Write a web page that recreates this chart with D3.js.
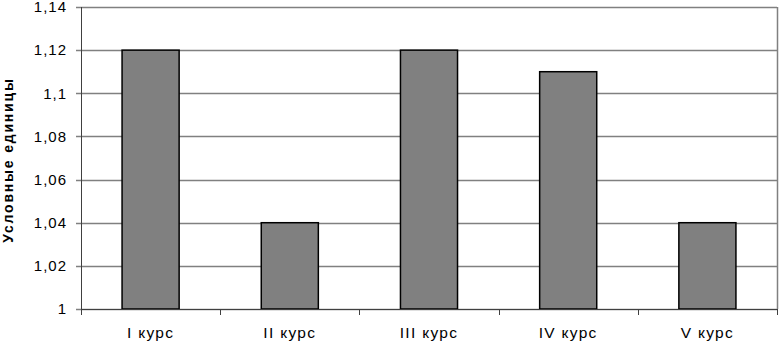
<!DOCTYPE html>
<meta charset="utf-8">
<style>
body { margin: 0; background: #fff; }
text { font-family: Arial, "Liberation Sans", sans-serif; }
</style>
<svg width="779" height="342"></svg>
<script src="https://d3js.org/d3.v7.min.js"></script>
<script>

var categories = ["I курс", "II курс", "III курс", "IV курс", "V курс"];
var values = [1.12, 1.04, 1.12, 1.11, 1.04];
var yTicks = [1, 1.02, 1.04, 1.06, 1.08, 1.1, 1.12, 1.14];
var yTitle = "Условные единицы";

// plot area edges ("top" is taken by window.top, so no bare names)
var plotLeft = 81, plotRight = 777, plotTop = 7, plotBottom = 309;

var svg = d3.select("svg");

var x = d3.scaleBand()
    .domain(categories)
    .range([plotLeft, plotRight])
    .paddingInner(0.59)
    .paddingOuter(0.295);

var y = d3.scaleLinear()
    .domain([1, 1.14])
    .range([plotBottom, plotTop]);

var fmt = function(d) { return d3.format("~g")(d).replace(".", ","); };

// gridlines
svg.append("g")
  .selectAll("line")
  .data(yTicks)
  .join("line")
    .attr("x1", plotLeft - 5)
    .attr("x2", plotRight)
    .attr("y1", function(d) { return Math.round(y(d)) + 0.5; })
    .attr("y2", function(d) { return Math.round(y(d)) + 0.5; })
    .attr("stroke", "#808080")
    .attr("stroke-width", 1.5);

// right border
svg.append("line")
    .attr("x1", plotRight + 0.5).attr("x2", plotRight + 0.5)
    .attr("y1", plotTop).attr("y2", plotBottom)
    .attr("stroke", "#808080")
    .attr("stroke-width", 1.5);

// bars
svg.append("g")
  .selectAll("rect")
  .data(values)
  .join("rect")
    .attr("x", function(d, i) { return x(categories[i]); })
    .attr("y", function(d) { return y(d); })
    .attr("width", x.bandwidth())
    .attr("height", function(d) { return y(1) - y(d); })
    .attr("fill", "#808080")
    .attr("stroke", "#000")
    .attr("stroke-width", 1.5);

// y axis
svg.append("line")
    .attr("x1", plotLeft + 0.5).attr("x2", plotLeft + 0.5)
    .attr("y1", plotTop).attr("y2", plotBottom + 6)
    .attr("stroke", "#404040");

svg.append("g")
  .selectAll("text")
  .data(yTicks)
  .join("text")
    .attr("x", 67)
    .attr("y", function(d) { return y(d); })
    .attr("dy", "0.35em")
    .attr("text-anchor", "end")
    .attr("font-size", 15)
    .attr("letter-spacing", 1)
    .attr("fill", "#000")
    .text(fmt);

// x axis
svg.append("line")
    .attr("x1", plotLeft).attr("x2", plotRight)
    .attr("y1", plotBottom + 0.5).attr("y2", plotBottom + 0.5)
    .attr("stroke", "#404040");

var bounds = categories.map(function(c) { return x(c) - x.step() * x.paddingInner() / 2; }).slice(1);
bounds.push(plotRight);
svg.append("g")
  .selectAll("line")
  .data(bounds)
  .join("line")
    .attr("x1", function(d) { return Math.round(d) + 0.5; })
    .attr("x2", function(d) { return Math.round(d) + 0.5; })
    .attr("y1", plotBottom)
    .attr("y2", plotBottom + 6)
    .attr("stroke", "#404040");

svg.append("g")
  .selectAll("text")
  .data(categories)
  .join("text")
    .attr("x", function(d) { return x(d) + x.bandwidth() / 2; })
    .attr("y", 338)
    .attr("text-anchor", "middle")
    .attr("font-size", 15.5)
    .attr("letter-spacing", 1.3)
    .attr("fill", "#000")
    .text(function(d) { return d; });

// y title
svg.append("text")
    .attr("transform", "translate(12.5,160) rotate(-90)")
    .attr("text-anchor", "middle")
    .attr("font-size", 14)
    .attr("font-weight", "bold")
    .attr("letter-spacing", 1.8)
    .text(yTitle);

</script>
